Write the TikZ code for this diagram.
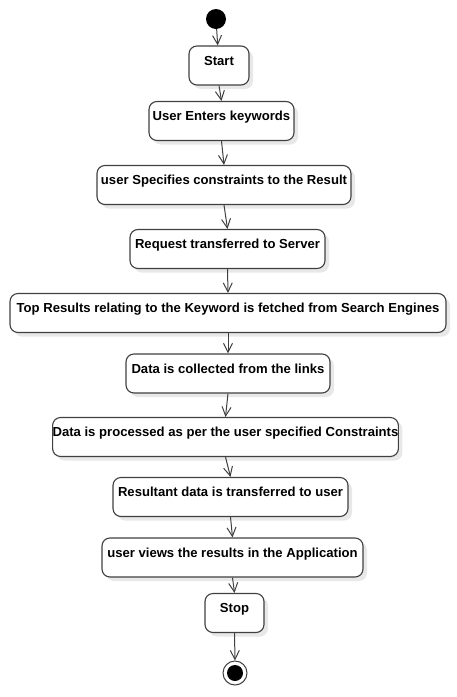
\documentclass[tikz,border=0pt]{standalone}
\usepackage{fontspec}
\newfontfamily\actfont{Liberation Sans}
\usetikzlibrary{arrows.meta,shadows}
\definecolor{edge}{RGB}{64,64,64}
\colorlet{shade}{black!9}
\tikzset{
  >={Straight Barb[length=9pt,width=9pt]},
  every node/.style={font=\actfont\bfseries\fontsize{13.1}{14}\selectfont},
  act/.style={draw=edge,line width=1.1pt,fill=white,rounded corners=8pt,
              inner xsep=0pt,inner ysep=4pt,text height=15pt,text depth=16pt,
              drop shadow={fill=shade,opacity=1,shadow xshift=4pt,shadow yshift=-4pt}},
  initial/.style={circle,fill=black,inner sep=0pt,minimum size=20pt},
  final/.style={circle,draw=edge,line width=1pt,fill=white,inner sep=0pt,minimum size=24pt,
                path picture={\fill[black] (path picture bounding box.center) circle (8pt);}},
  flow/.style={->,draw=edge,line width=1pt},
}
\begin{document}
\begin{tikzpicture}[x=1pt,y=1pt]
  \useasboundingbox (0,0) rectangle (456,-697);

  % start and end points
  \node[initial] (init) at (216,-19) {};
  \node[final] (fin) at (235,-673) {};

  % activities (centres)
  \node[act,minimum width=60pt]  (start) at (219,-65.5)   {Start};
  \node[act,minimum width=145pt] (keys)  at (221.5,-121)  {User Enters keywords};
  \node[act,minimum width=254pt] (cons)  at (224,-185)    {user Specifies constraints to the Result};
  \node[act,minimum width=195pt] (req)   at (227.5,-249)  {Request transferred to Server};
  \node[act,minimum width=436pt] (top)   at (228,-313)    {Top Results relating to the Keyword is fetched from Search Engines};
  \node[act,minimum width=204pt] (coll)  at (228,-373.5)  {Data is collected from the links};
  \node[act,minimum width=343pt] (proc)  at (225.5,-437)  {Data is processed as per the user specified Constraints};
  \node[act,minimum width=235pt] (res)   at (230.5,-497)  {Resultant data is transferred to user};
  \node[act,minimum width=261pt] (views) at (232.5,-557.5){user views the results in the Application};
  \node[act,minimum width=59pt]  (stop)  at (234.5,-613)  {Stop};

  \draw[flow] (init) -- (start);
  \foreach \a/\b in {start/keys,keys/cons,cons/req,req/top,top/coll,coll/proc,proc/res,res/views,views/stop}{
    \draw[flow] (\a.south) -- (\b.north);
  }
  \draw[flow] (stop.south) -- (fin.north);
\end{tikzpicture}
\end{document}
